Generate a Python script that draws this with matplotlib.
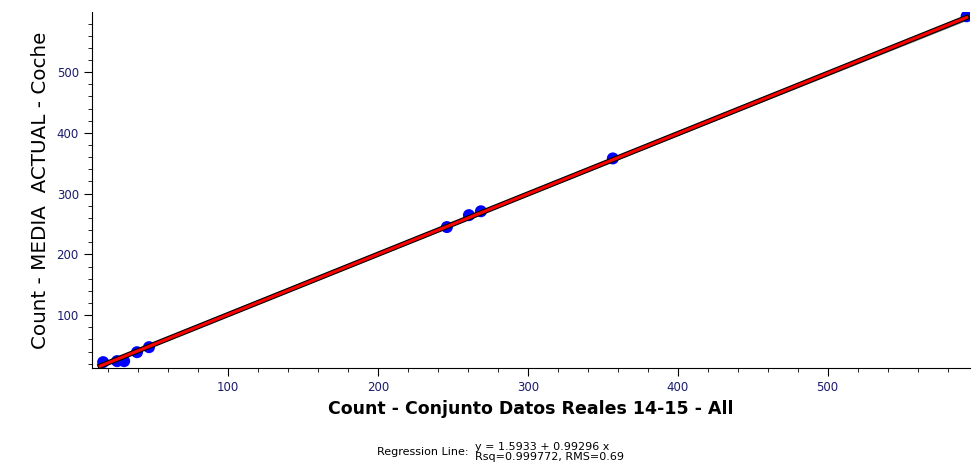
import numpy as np
import matplotlib.pyplot as plt
from matplotlib.ticker import MultipleLocator

# valores
reales = [16.7, 26.0, 30.7, 39.3, 47.3, 246.0, 260.7, 268.7, 356.7, 592.7]
media_actual = [22.6, 24.3, 24.3, 39.0, 47.3, 245.0, 264.6, 271.0, 358.0, 592.0]

intercepto = 1.5933
pendiente = 0.99296
pendiente_gris = 0.985
x_lim = [9.3, 595]
y_lim = [13, 599]

fig = plt.figure(figsize=(9.74, 4.71), dpi=100)
ax = fig.add_axes([0.0945, 0.2187, 0.9015, 0.7558])

xs = np.array([reales[0] - 2, reales[-1]])
ax.plot(xs, intercepto + pendiente_gris * xs, color='#777777', lw=1.0, zorder=2)
ax.scatter(reales, media_actual, s=75, color='#0000ff', edgecolors='none', zorder=3)
ax.plot(xs, intercepto + pendiente * xs, color='black', lw=3.8, zorder=4)
ax.plot(xs, intercepto + pendiente * xs, color='#ff0000', lw=2.2, zorder=5)

ax.set_xlim(x_lim)
ax.set_ylim(y_lim)
ax.spines['top'].set_visible(False)
ax.spines['right'].set_visible(False)

ax.xaxis.set_major_locator(MultipleLocator(100))
ax.xaxis.set_minor_locator(MultipleLocator(20))
ax.yaxis.set_major_locator(MultipleLocator(100))
ax.yaxis.set_minor_locator(MultipleLocator(20))
ax.tick_params(which='major', length=6, labelsize=8.5, labelcolor='#1a1a6e')
ax.tick_params(which='minor', length=3)

ax.set_xlabel('Count - Conjunto Datos Reales 14-15 - All', fontsize=12.5,
              fontweight='bold', labelpad=4)
ax.set_ylabel('Count - MEDIA  ACTUAL - Coche', fontsize=14.3, labelpad=5)

fig.text(0.481, 0.040, 'Regression Line:', fontsize=8, ha='right', va='center')
fig.text(0.488, 0.040, 'y = 1.5933 + 0.99296 x\nRsq=0.999772, RMS=0.69',
         fontsize=8, ha='left', va='center', linespacing=1.0)

fig.savefig('out.png', dpi=100)
